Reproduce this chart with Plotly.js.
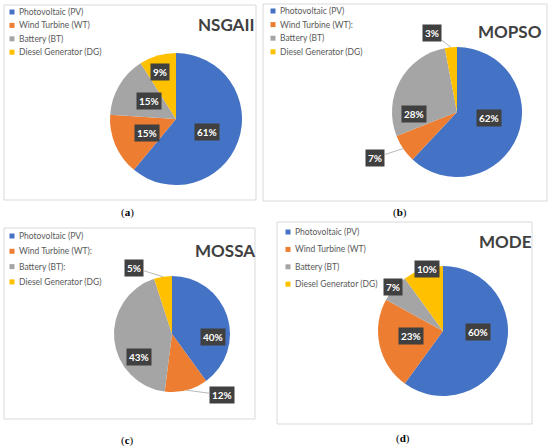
<!DOCTYPE html>
<html><head><meta charset="utf-8">
<script src="https://cdn.plot.ly/plotly-3.0.1.min.js"></script>
<style>html,body{margin:0;padding:0;background:#fff}#chart{width:550px;height:447px}</style>
</head><body><div id="chart"></div>
<script>
// ---- data ----
const labelsA = ['Photovoltaic (PV)', 'Wind Turbine (WT)', 'Battery (BT)', 'Diesel Generator (DG)'];
const labelsB = ['Photovoltaic (PV)', 'Wind Turbine (WT):', 'Battery (BT)', 'Diesel Generator (DG)'];
const labelsC = ['Photovoltaic (PV)', 'Wind Turbine (WT):', 'Battery (BT):', 'Diesel Generator (DG)'];
const labelsD = ['Photovoltaic (PV)', 'Wind Turbine (WT)', 'Battery (BT)', 'Diesel Generator (DG)'];
const valuesNSGAII = [61, 15, 15, 9];
const valuesMOPSO = [62, 7, 28, 3];
const valuesMOSSA = [40, 12, 43, 5];
const valuesMODE = [60, 23, 7, 10];
const titles = ['NSGAII', 'MOPSO', 'MOSSA', 'MODE'];
const captions = ['a', 'b', 'c', 'd'];

// ---- styles / layout ----
const colors = ['#4472C4', '#ED7D31', '#A5A5A5', '#FFC000'];
const W = 550, H = 447;
const FONT = 'Lato, "Open Sans", sans-serif';
const panels = [
  {labels: labelsA, values: valuesNSGAII, cx: 176, cy: 119, r: 66, frame: [4, 5, 256, 200],
   cap: [127, 212], leg: [12, 12, 13.4], ttl: [226, 25],
   lab: [[3, 0.51, false], [-2, 0.49, false], [3, 0.49, false], [-3, 0.75, false]]},
  {labels: labelsB, values: valuesMOPSO, cx: 457, cy: 112, r: 65, frame: [263, 4, 547, 201],
   cap: [400, 212], leg: [273, 11, 13.6], ttl: [510, 31],
   lab: [[-11, 0.5, false], [5, 1.44, true], [-31, 0.66, false], [-12, 1.28, true]]},
  {labels: labelsC, values: valuesMOSSA, cx: 172, cy: 334, r: 58, frame: [4, 228, 255, 419],
   cap: [127, 440], leg: [12, 236, 15.3], ttl: [225, 250],
   lab: [[22, 0.71, false], [-25, 1.36, true], [-30, 0.69, false], [-21, 1.32, true]]},
  {labels: labelsD, values: valuesMODE, cx: 443, cy: 331, r: 65, frame: [277, 222, 532, 424],
   cap: [403, 438], leg: [288, 232, 17.4], ttl: [505, 242],
   lab: [[-16, 0.54, false], [4, 0.5, false], [0, 1.02, false], [3, 0.98, false]]}
];

const px = x => x / W, py = y => 1 - y / H;
const traces = [], annotations = [], shapes = [];

panels.forEach((p, i) => {
  // frame
  shapes.push({type: 'rect', xref: 'paper', yref: 'paper', x0: px(p.frame[0]), x1: px(p.frame[2]),
    y0: py(p.frame[3]), y1: py(p.frame[1]), line: {color: '#d9d9d9', width: 1}, fillcolor: 'rgba(0,0,0,0)', layer: 'below'});
  // pie
  traces.push({type: 'pie', labels: p.labels, values: p.values, sort: false, direction: 'clockwise', rotation: 0,
    marker: {colors: colors, line: {color: '#ffffff', width: 0}}, textinfo: 'none', hoverinfo: 'label+percent',
    showlegend: false,
    domain: {x: [px(p.cx - p.r), px(p.cx + p.r)], y: [py(p.cy + p.r), py(p.cy - p.r)]}});
  // legend
  p.labels.forEach((lb, j) => {
    const yy = p.leg[1] + j * p.leg[2];
    shapes.push({type: 'rect', xref: 'paper', yref: 'paper', x0: px(p.leg[0] - 2.5), x1: px(p.leg[0] + 2.5),
      y0: py(yy + 2.5), y1: py(yy - 2.5), line: {width: 0}, fillcolor: colors[j]});
    annotations.push({xref: 'paper', yref: 'paper', x: px(p.leg[0] + 5), y: py(yy), xanchor: 'left', yanchor: 'middle',
      text: lb, showarrow: false, font: {family: FONT, size: 8.5, color: '#595959'}});
  });
  // title
  annotations.push({xref: 'paper', yref: 'paper', x: px(p.ttl[0]), y: py(p.ttl[1]), xanchor: 'center', yanchor: 'middle',
    text: '<b>' + titles[i] + '</b>', showarrow: false, font: {family: FONT, size: 17, color: '#404040'}});
  // caption
  annotations.push({xref: 'paper', yref: 'paper', x: px(p.cap[0]), y: py(p.cap[1]), xanchor: 'center', yanchor: 'middle',
    text: '(<b>' + captions[i] + '</b>)', showarrow: false, font: {family: '"Liberation Serif", serif', size: 11, color: '#000'}});
  // data labels computed from values
  const total = p.values.reduce((a, b) => a + b, 0);
  let cum = 0;
  p.values.forEach((v, j) => {
    const mid = (cum + v / 2) / total * 360;
    cum += v;
    const pct = Math.round(v / total * 100) + '%';
    const [dA, k, leader] = p.lab[j];
    const a = (mid + dA) * Math.PI / 180;
    const lx = p.cx + k * p.r * Math.sin(a), ly = p.cy - k * p.r * Math.cos(a);
    const base = {xref: 'paper', yref: 'paper', text: '<b>' + pct + '</b>', bgcolor: '#404040', borderpad: 2,
      font: {family: FONT, size: 10, color: '#ffffff'}, xanchor: 'center', yanchor: 'middle'};
    if (leader) {
      const m = mid * Math.PI / 180;
      const hx = p.cx + p.r * Math.sin(m), hy = p.cy - p.r * Math.cos(m);
      annotations.push(Object.assign(base, {x: px(hx), y: py(hy), showarrow: true, arrowhead: 0,
        arrowwidth: 0.8, arrowcolor: '#a6a6a6', ax: lx - hx, ay: ly - hy, standoff: 0}));
    } else {
      annotations.push(Object.assign(base, {x: px(lx), y: py(ly), showarrow: false}));
    }
  });
});

Plotly.newPlot('chart', traces, {
  width: W, height: H, margin: {l: 0, r: 0, t: 0, b: 0},
  paper_bgcolor: '#ffffff', showlegend: false, annotations: annotations, shapes: shapes
}, {staticPlot: true});
</script></body></html>
